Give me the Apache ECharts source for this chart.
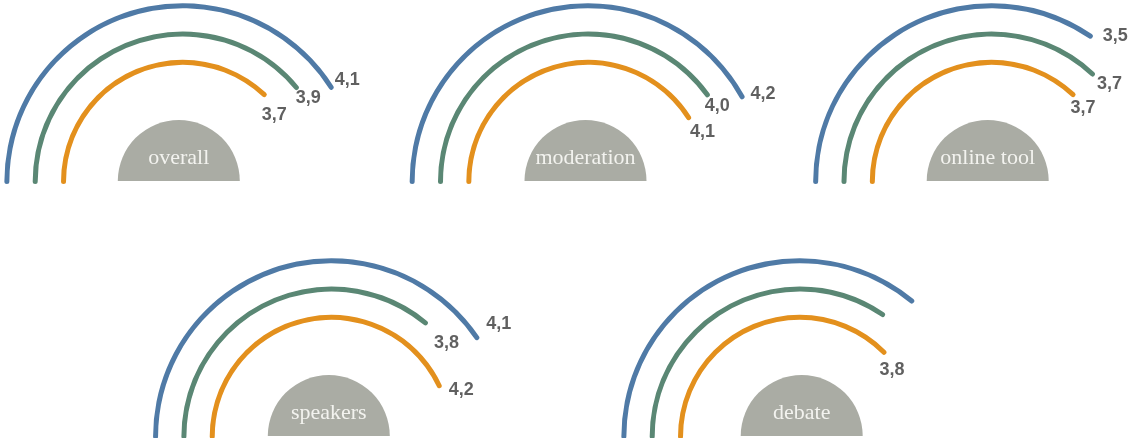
<!DOCTYPE html>
<html><head><meta charset="utf-8">
<script src="https://cdn.jsdelivr.net/npm/echarts@6/dist/echarts.min.js"></script>
<style>html,body{margin:0;padding:0;background:#fff}#c{width:1129px;height:438px}</style>
</head><body><div id="c"></div>
<script>
// ---- data ----
const categories   = ['overall', 'moderation', 'online tool', 'speakers', 'debate'];
// arc lengths (scale 0 – 5 over a half circle)
const blueValues   = [4.1, 4.2, 3.45, 4.05, 3.6];
const greenValues  = [3.9, 4.0, 3.7, 3.6, 3.45];
const orangeValues = [3.7, 4.1, 3.7, 4.3, 3.75];
// value labels as printed
const blueLabels   = ['4,1', '4,2', '3,5', '4,1', null];
const greenLabels  = ['3,9', '4,0', '3,7', '3,8', null];
const orangeLabels = ['3,7', '4,1', '3,7', '4,2', '3,8'];
const scaleMax = 5;

// ---- layout / style ----
const arcCenters  = [[182.7,181.5],[588,181.5],[991.5,181.5],[331.4,436.5],[799.7,436.5]];
const discCenters = [[178.8,181],[585.5,181],[987.7,181],[328.8,436],[801.7,436]];
const labelOffsets = [ // [orange, green, blue]
  [[10,20],[12,11],[16,-7]],
  [[14,14],[10,11],[21,-3]],
  [[10,13],[17,10],[25,-0.5]],
  [[22,4],[21,20],[22,-13.6]],
  [[8,18],[0,0],[0,0]]
];
const COLORS = ['#e3901d', '#5a8774', '#4f7aa6']; // orange, green, blue
const GRAY = '#aaaca4';

const polar = [], angleAxis = [], radiusAxis = [], series = [];
categories.forEach((cat, i) => {
  polar.push({ center: arcCenters[i], radius: [105, 190] });
  angleAxis.push({ polarIndex: i, type: 'value', min: 0, max: scaleMax * 2, startAngle: 180, clockwise: true, show: false });
  radiusAxis.push({ polarIndex: i, type: 'category', data: ['o', 'g', 'b'], show: false });
  const vals = [orangeValues[i], greenValues[i], blueValues[i]];
  const labs = [orangeLabels[i], greenLabels[i], blueLabels[i]];
  series.push({
    type: 'bar', coordinateSystem: 'polar', polarIndex: i,
    barWidth: 5, roundCap: true, silent: true,
    data: vals.map((v, k) => ({ value: v, itemStyle: { color: COLORS[k] } }))
  });
  const lblData = [];
  vals.forEach((v, k) => {
    if (labs[k]) lblData.push({ name: labs[k], value: [k, v], label: { offset: labelOffsets[i][k] } });
  });
  series.push({
    type: 'scatter', coordinateSystem: 'polar', polarIndex: i,
    symbolSize: 0, silent: true,
    label: { show: true, position: 'inside', formatter: '{b}', align: 'center', verticalAlign: 'middle',
             fontFamily: 'Liberation Sans, Arial, sans-serif', fontWeight: 'bold', fontSize: 18,
             color: '#383838', textBorderWidth: 0, textBorderColor: 'transparent' },
    data: lblData
  });
  series.push({
    type: 'pie', center: discCenters[i], radius: [0, 61], startAngle: 180, clockwise: true,
    silent: true, labelLine: { show: false },
    itemStyle: { borderWidth: 0 },
    label: { show: false },
    data: [
      { value: 1, name: cat, itemStyle: { color: GRAY },
        label: { show: true, position: 'center', offset: [0, -23], formatter: '{b}',
                 fontFamily: 'Liberation Serif, Times New Roman, serif', fontSize: 22, color: '#f3f3ef',
                 textBorderWidth: 0 } },
      { value: 1, name: '', itemStyle: { color: 'rgba(0,0,0,0)' }, label: { show: false } }
    ]
  });
});

const chart = echarts.init(document.getElementById('c'));
chart.setOption({ animation: false, polar, angleAxis, radiusAxis, series });
</script></body></html>
